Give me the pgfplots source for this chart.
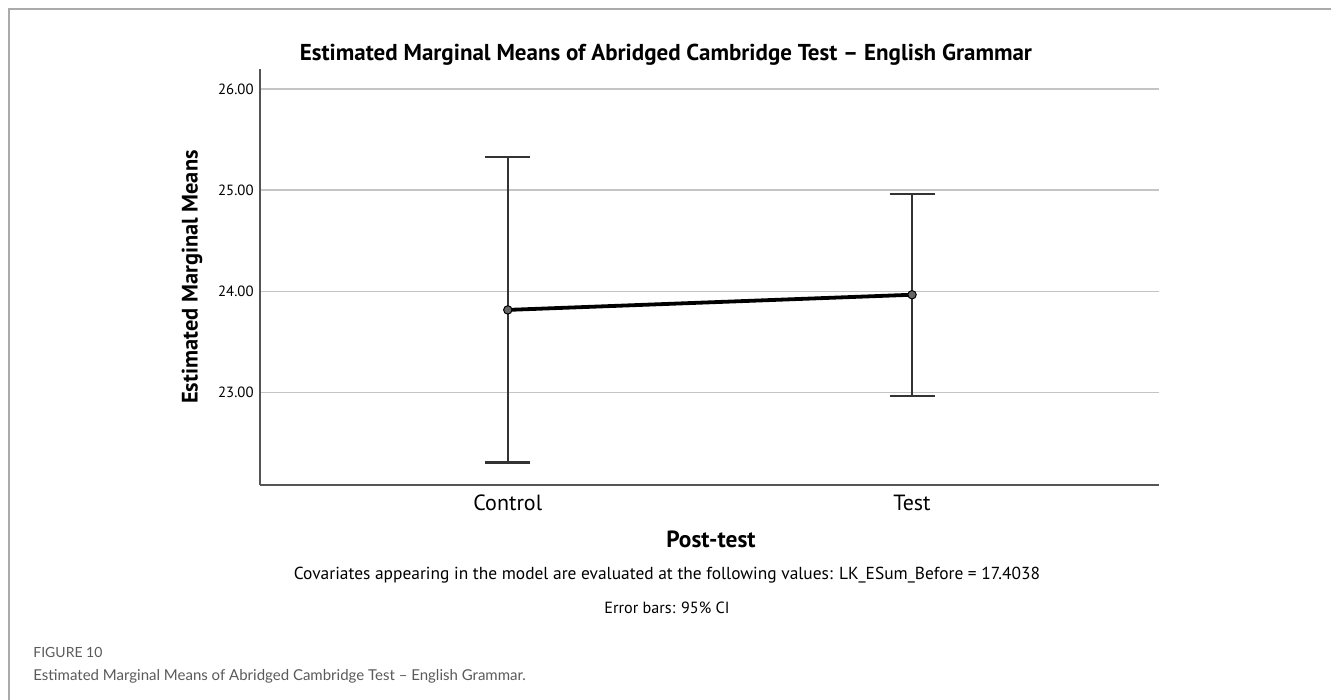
\documentclass[border=0pt]{standalone}
\usepackage{pgfplots}
\pgfplotsset{compat=1.18}
\usepackage{fontspec}
\setmainfont{PT Sans}
\newfontfamily\capfont[Ligatures=TeX]{Lato}
\definecolor{axisgray}{HTML}{555555}
\definecolor{gridgray}{HTML}{C4C4C4}
\definecolor{bargray}{HTML}{333333}
\definecolor{framegray}{HTML}{AAAAAA}
\definecolor{capgray}{HTML}{5A5A5A}
\begin{document}
\begin{tikzpicture}[x=0.5pt,y=-0.5pt]
\path[use as bounding box] (0,0) rectangle (1331,700);
\draw[framegray, line width=0.8pt] (9,700) -- (9,9) -- (1331,9);
\begin{axis}[
  at={(130pt,-242.35pt)}, anchor=south west,
  scale only axis, width=449.5pt, height=207.85pt,
  xmin=-0.613, xmax=1.611, ymin=22.086, ymax=26.198,
  axis lines*=left,
  axis line style={axisgray, line width=0.8pt},
  xtick={0,1}, xticklabels={Control,Test},
  ytick={23,24,25,26},
  major tick length=0pt,
  xtick pos=bottom, ytick pos=left,
  ymajorgrids, grid style={gridgray, line width=0.7pt},
  /pgf/number format/assume math mode=true,
  /pgf/number format/fixed,
  /pgf/number format/fixed zerofill,
  /pgf/number format/precision=2,
  yticklabel style={font=\fontsize{7.4pt}{8pt}\selectfont, anchor=east, inner sep=0pt, xshift=-3pt},
  xticklabel style={font=\fontsize{11pt}{12pt}\selectfont, anchor=center, inner sep=0pt, yshift=-9.2pt},
  clip=false,
]
\addplot[black, line width=1.9pt, mark=*,
  mark options={fill=black!60, draw=black, line width=0.5pt, solid},
  mark size=2.1pt,
  error bars/.cd, y dir=both, y explicit,
  error bar style={bargray, line width=0.8pt},
  error mark options={rotate=90, mark size=11.25pt, line width=1.2pt, bargray}]
coordinates {
  (0,23.815) += (0,1.512) -= (0,1.510)
  (1,23.965) += (0,0.998) -= (0,1.004)
};
\end{axis}
\node[font=\fontsize{11.5pt}{13pt}\selectfont\bfseries] at (666,55) {Estimated Marginal Means of Abridged Cambridge Test – English Grammar};
\node[font=\fontsize{11.2pt}{13pt}\selectfont\bfseries, rotate=90] at (192,277) {Estimated Marginal Means};
\node[font=\fontsize{11.7pt}{13pt}\selectfont\bfseries] at (711,539) {Post-test};
\node[font=\fontsize{8.7pt}{10pt}\selectfont] at (667,575) {Covariates appearing in the model are evaluated at the following values: LK\_ESum\_Before = 17.4038};
\node[font=\fontsize{8.1pt}{10pt}\selectfont] at (667,608) {Error bars: 95\% CI};
\node[font=\capfont\fontsize{7pt}{8pt}\selectfont, text=capgray, anchor=west, inner sep=0pt] at (33,652) {FIGURE 10};
\node[font=\capfont\fontsize{7.5pt}{10pt}\selectfont, text=capgray, anchor=west, inner sep=0pt] at (33,676) {Estimated Marginal Means of Abridged Cambridge Test – English Grammar.};
\end{tikzpicture}
\end{document}
